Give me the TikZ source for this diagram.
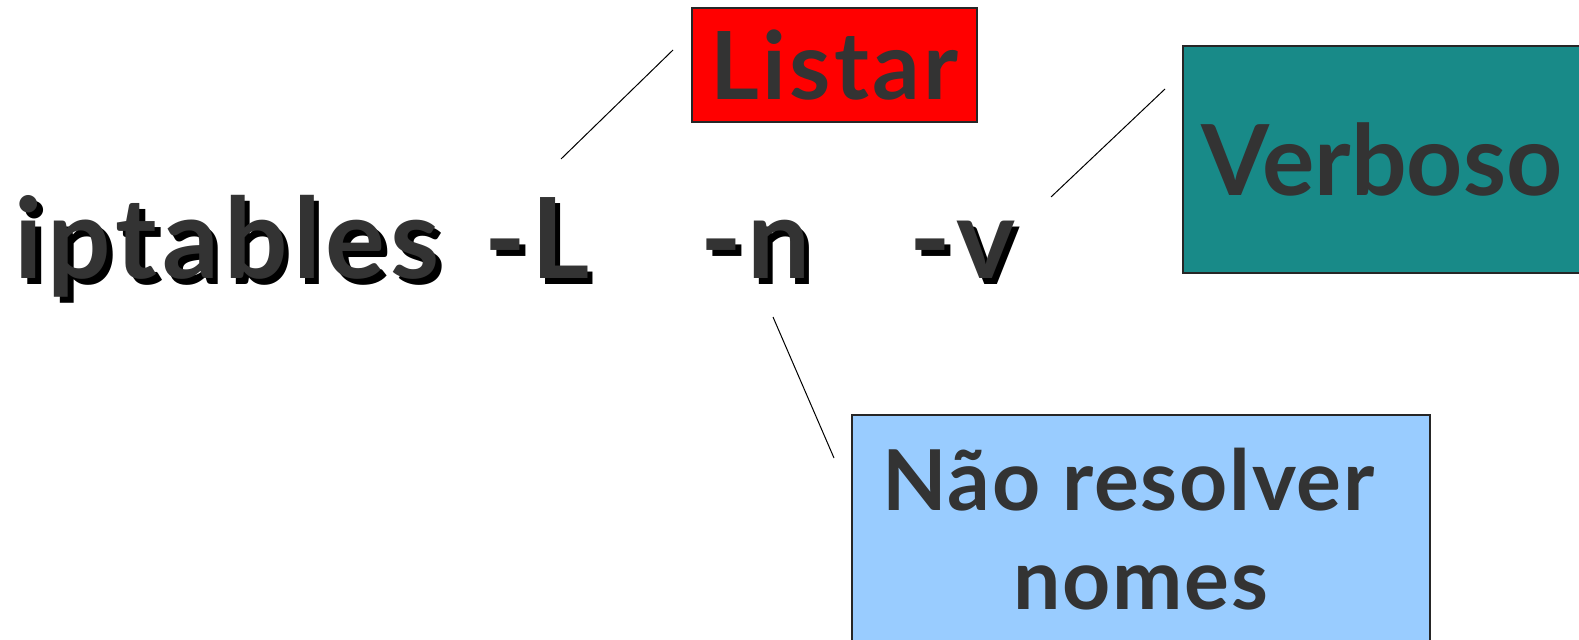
\documentclass[tikz,border=0pt]{standalone}
\usepackage{fontspec}
\setmainfont{Lato}
\definecolor{txt}{HTML}{333333}
\definecolor{listarred}{HTML}{FF0000}
\definecolor{verbteal}{HTML}{188A88}
\definecolor{lblue}{HTML}{99CCFF}
\newcommand{\shadowtext}[1]{\rlap{\hspace{2.8pt}\raisebox{-3pt}{\textcolor{black}{#1}}}#1}
\begin{document}
\begin{tikzpicture}[x=0.5pt,y=-0.5pt,
  box/.style={draw=black!85, line width=0.6pt, inner sep=0pt, text=txt, align=center, font=\bfseries},
  cmd/.style={anchor=base west, inner sep=0pt, text=txt, font=\fontsize{56}{58}\selectfont\bfseries\addfontfeature{LetterSpace=4.5}},
  link/.style={draw=black, line width=0.5pt}]
\useasboundingbox (0,0) rectangle (1579,640);
\clip (0,0) rectangle (1579,640);
% main text
\node[cmd] (ipt) at (14,279) {\shadowtext{iptables}};
\node[cmd] (optL) at (484,279) {\shadowtext{-L}};
\node[cmd] (optn) at (700,279) {\shadowtext{-n}};
\node[cmd] (optv) at (909,279) {\shadowtext{-v}};
% boxes
\node[box, fill=listarred, minimum width=142.5pt, minimum height=57pt,
      font=\fontsize{47}{48}\selectfont\bfseries\addfontfeature{LetterSpace=3.5}] (listar) at (834.5,65) {Listar};
\node[box, fill=verbteal, minimum width=199pt, minimum height=113.5pt,
      font=\fontsize{49}{50}\selectfont\bfseries] (verb) at (1382,159.5) {Verboso};
\node[box, fill=lblue, minimum width=289pt, minimum height=120pt,
      font=\fontsize{42}{49.5}\selectfont\bfseries\addfontfeature{LetterSpace=2}] (nres) at (1141,535) {Não resolver\hspace*{0.3em}\\nomes\rule[-6pt]{0pt}{6pt}};
% connectors
\coordinate (l1a) at (561,159); \coordinate (l1b) at (673,50);
\coordinate (l2a) at (1051,197); \coordinate (l2b) at (1165,89);
\coordinate (l3a) at (773,317); \coordinate (l3b) at (834,458);
\draw[link] (l1a) -- (l1b);
\draw[link] (l2a) -- (l2b);
\draw[link] (l3a) -- (l3b);
\end{tikzpicture}
\end{document}
